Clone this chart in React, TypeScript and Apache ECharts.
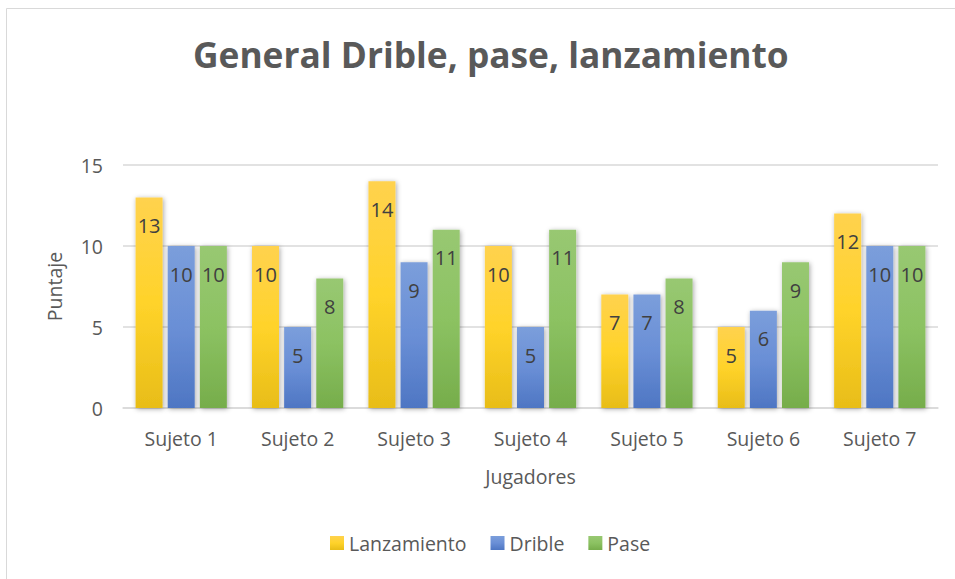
import React, { useEffect, useRef } from "react";
import * as echarts from "echarts";

const categories = ["Sujeto 1", "Sujeto 2", "Sujeto 3", "Sujeto 4", "Sujeto 5", "Sujeto 6", "Sujeto 7"];
const lanzamiento = [13, 10, 14, 10, 7, 5, 12];
const drible = [10, 5, 9, 5, 7, 6, 10];
const pase = [10, 8, 11, 11, 8, 9, 10];
const yTicks = { min: 0, max: 15, interval: 5 };

const FONT = "Open Sans";
const TEXT = "#595959";
const FS = 19.5;

function grad(top: string, mid: string, bottom: string) {
  return new echarts.graphic.LinearGradient(0, 0, 0, 1, [
    { offset: 0, color: top },
    { offset: 0.5, color: mid },
    { offset: 1, color: bottom },
  ]);
}

export default function App() {
  const ref = useRef<HTMLDivElement>(null);
  useEffect(() => {
    if (!ref.current) return;
    const chart = echarts.init(ref.current, undefined, { renderer: "svg" });
    const mk = (name: string, data: number[], top: string, mid: string, bottom: string) => ({
      name,
      type: "bar",
      data,
      barWidth: 27,
      barGap: "19%",
      itemStyle: {
        color: grad(top, mid, bottom),
        shadowBlur: 5,
        shadowColor: "rgba(0,0,0,0.35)",
        shadowOffsetX: 1,
        shadowOffsetY: 1,
      },
      label: {
        show: true,
        position: "insideTop",
        distance: 18,
        fontFamily: FONT,
        fontSize: 20,
        color: "#404040",
      },
    });
    chart.setOption({
      animation: false,
      backgroundColor: "#ffffff",
      title: {
        text: "General Drible, pase, lanzamiento",
        left: 188,
        top: 31,
        textStyle: { fontFamily: FONT, fontSize: 35.3, fontWeight: "bold", color: TEXT },
      },
      graphic: [
        {
          type: "rect",
          shape: { x: 6.5, y: 8.5, width: 1000, height: 700 },
          style: { fill: "none", stroke: "#d9d9d9", lineWidth: 1 },
          silent: true,
        },
      ],
      legend: {
        bottom: 21,
        left: 325,
        itemWidth: 14,
        itemHeight: 14,
        itemGap: 24,
        icon: "rect",
        textStyle: { fontFamily: FONT, fontSize: FS, color: TEXT },
        data: ["Lanzamiento", "Drible", "Pase"],
      },
      grid: { left: 123, right: 17, top: 165, bottom: 171 },
      xAxis: {
        type: "category",
        data: categories,
        name: "Jugadores",
        nameLocation: "middle",
        nameGap: 58,
        nameTextStyle: { fontFamily: FONT, fontSize: FS, color: TEXT },
        axisTick: { show: false },
        axisLine: { lineStyle: { color: "#d9d9d9", width: 1.5 } },
        axisLabel: { fontFamily: FONT, fontSize: FS, color: TEXT, margin: 20 },
      },
      yAxis: {
        type: "value",
        min: yTicks.min,
        max: yTicks.max,
        interval: yTicks.interval,
        name: "Puntaje",
        nameLocation: "middle",
        nameGap: 59,
        nameTextStyle: { fontFamily: FONT, fontSize: FS, color: TEXT },
        axisLabel: { fontFamily: FONT, fontSize: FS, color: TEXT, margin: 20 },
        splitLine: { lineStyle: { color: "#d9d9d9", width: 1.5 } },
        axisLine: { show: false },
        axisTick: { show: false },
      },
      series: [
        mk("Lanzamiento", lanzamiento, "#ffd24e", "#ffd32a", "#e8bd18"),
        mk("Drible", drible, "#7b9edb", "#6a8fd6", "#4e76c3"),
        mk("Pase", pase, "#98c872", "#8cc262", "#76ad4b"),
      ],
    });
    return () => chart.dispose();
  }, []);
  return (
    <div
      ref={ref}
      style={{ position: "absolute", left: 0, top: 0, width: 955, height: 579 }}
    />
  );
}
